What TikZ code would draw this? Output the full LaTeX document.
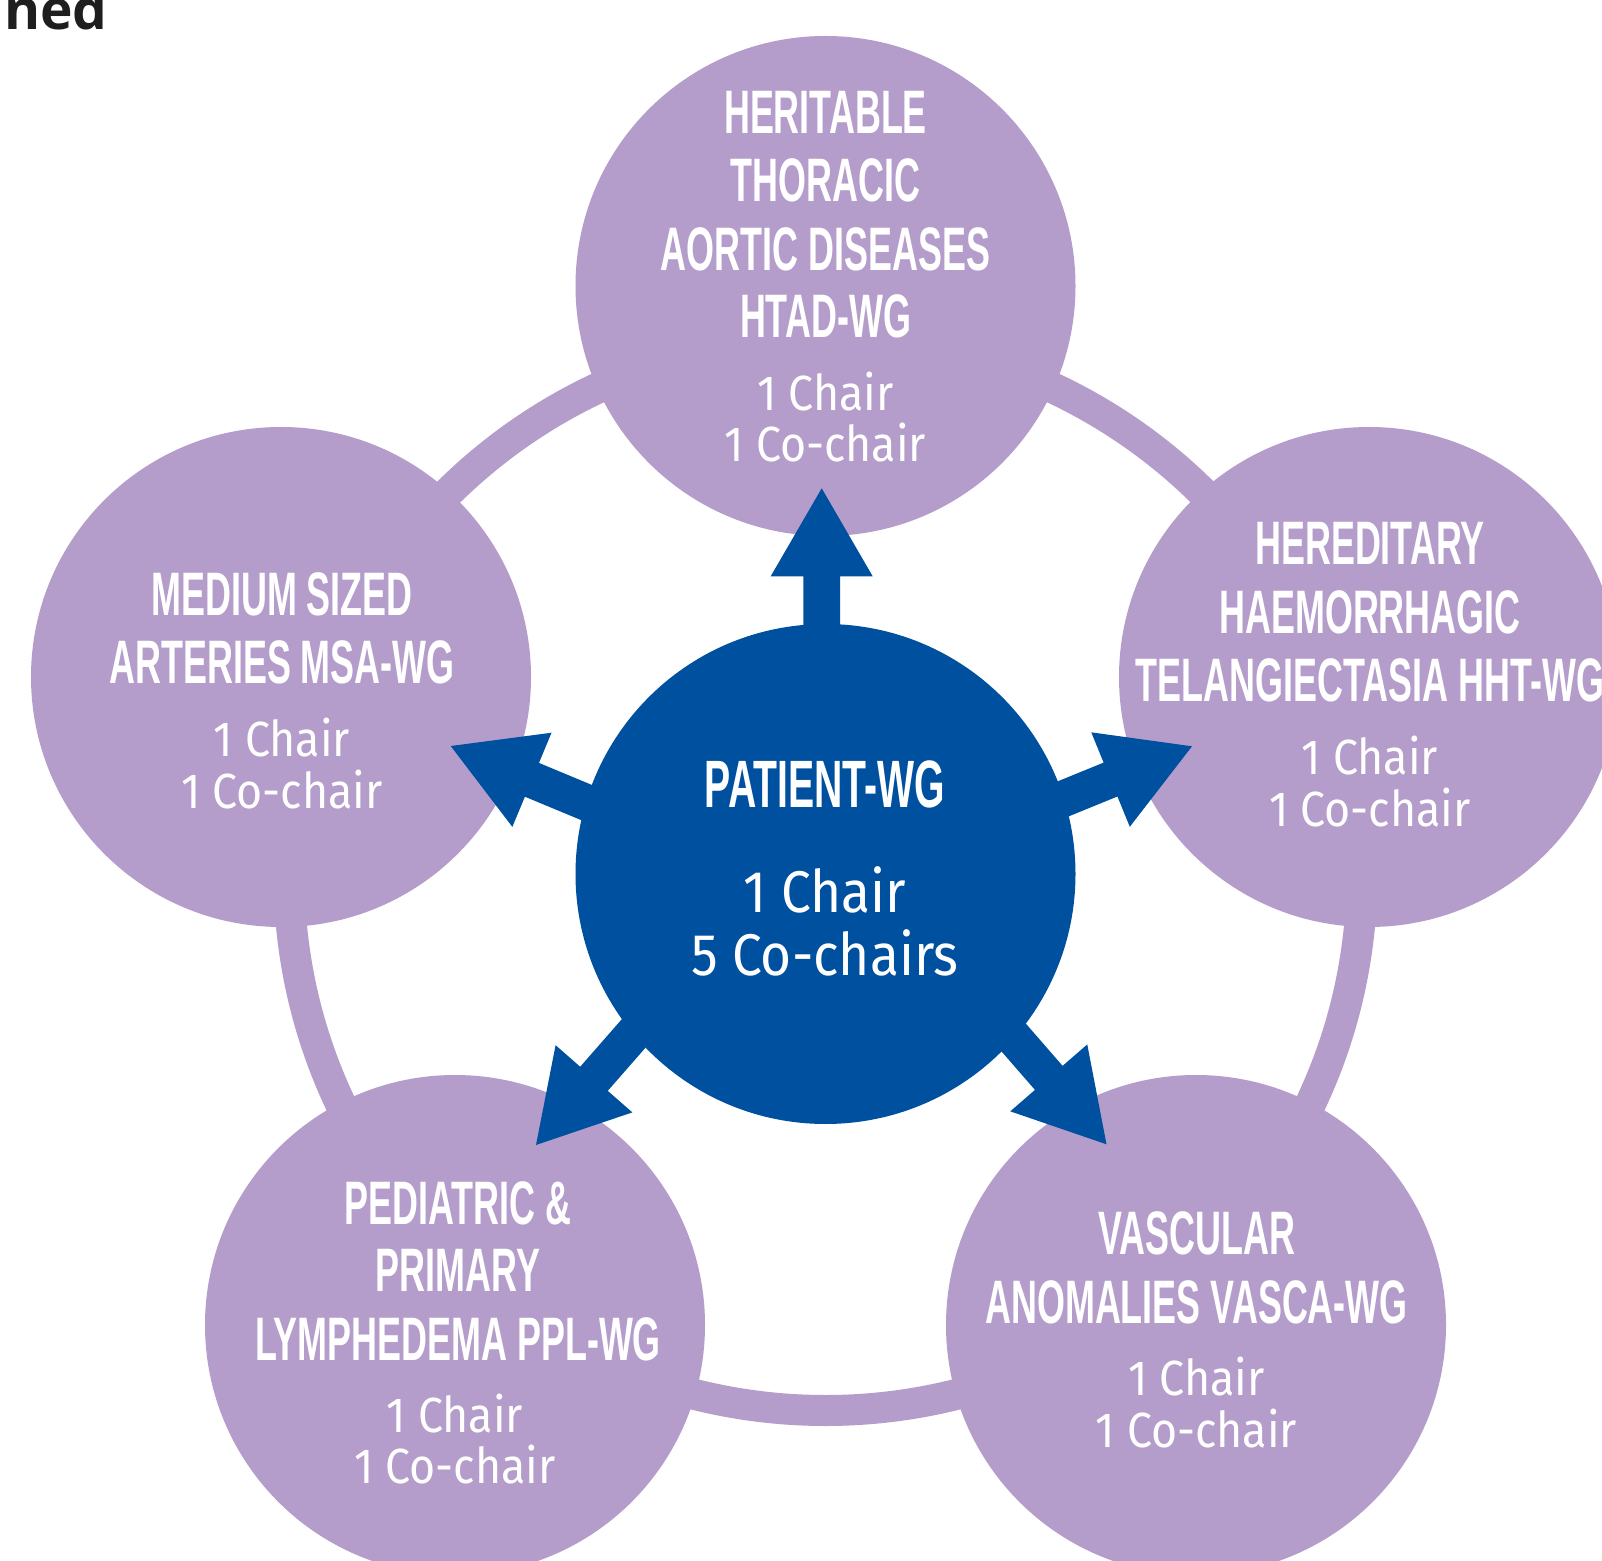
\documentclass[tikz,border=0pt]{standalone}
\usepackage{fontspec}
\setmainfont{Liberation Sans}
\newfontfamily\titlefont[FakeStretch=0.585]{Liberation Sans}
\newfontfamily\chairfont[FakeStretch=0.905]{Fira Sans}
\newfontfamily\nedfont{Open Sans}
\definecolor{lav}{HTML}{B49DCA}
\definecolor{navy}{HTML}{0050A0}
\definecolor{ink}{HTML}{1E1E1E}
\begin{document}
\begin{tikzpicture}[x=0.5pt,y=-0.5pt,
  wg/.style={circle,fill=lav,minimum size=250pt,inner sep=0pt},
  hub/.style={circle,fill=navy,minimum size=250pt,inner sep=0pt},
  ttl/.style={text=white,anchor=base,inner sep=0pt,font=\titlefont\bfseries\fontsize{30.7}{30.7}\selectfont},
  chr/.style={text=white,anchor=base,inner sep=0pt,font=\chairfont\fontsize{24.7}{24.7}\selectfont},
  hubttl/.style={text=white,anchor=base,inner sep=0pt,font=\titlefont\bfseries\fontsize{33.5}{33.5}\selectfont},
  hubchr/.style={text=white,anchor=base,inner sep=0pt,font=\chairfont\fontsize{29.4}{29.4}\selectfont},
  barrow/.pic={\fill[navy] (0,0) -- (-88,51) -- (-88,18.3) -- (-250,18.3) -- (-250,-18.3) -- (-88,-18.3) -- (-88,-51) -- cycle;}
]
\useasboundingbox (0,0) rectangle (1602,1561);
\fill[white] (0,0) rectangle (1602,1561);

\coordinate (c) at (825.5,874);
% ring
\draw[lav, line width=15.5pt] (c) circle[radius=536.5];

% outer circles
\node[wg] (top) at (825.5,286) {};
\node[wg] (left) at (281,677) {};
\node[wg] (right) at (1369,677) {};
\node[wg] (bl) at (455,1325) {};
\node[wg] (br) at (1196,1325) {};

% hub
\node[hub] (hub) at (c) {};

% arrows
\coordinate (tT) at (821.7,488.3);
\coordinate (tL) at (450.7,746);
\coordinate (tR) at (1192,746.3);
\coordinate (tBL) at (536,1145);
\coordinate (tBR) at (1106.5,1144.3);
\pic[rotate=90] at (tT) {barrow};
\pic[rotate=157.4] at (tL) {barrow};
\pic[rotate=22.2] at (tR) {barrow};
\pic[rotate=228.8] at (tBL) {barrow};
\pic[rotate=311] at (tBR) {barrow};

% partial heading
\node[anchor=base east,inner sep=0pt,text=ink,font=\nedfont\bfseries\fontsize{27.5}{27.5}\selectfont] (ned) at (108,30) {ned};

% top texts
\node[ttl] (t1) at (825.5,134) {HERITABLE};
\node[ttl] (t2) at (825.5,202) {THORACIC};
\node[ttl] (t3) at (825.5,271) {AORTIC DISEASES};
\node[ttl] (t4) at (825.5,338) {HTAD-WG};
\node[chr] (t5) at (825.5,411) {1 Chair};
\node[chr] (t6) at (825.5,462) {1 Co-chair};

% left texts
\node[ttl] (l1) at (282,616) {MEDIUM SIZED};
\node[ttl] (l2) at (282,683.5) {ARTERIES MSA-WG};
\node[chr] (l3) at (282,756) {1 Chair};
\node[chr] (l4) at (282,808) {1 Co-chair};

% right texts
\node[ttl] (r1) at (1370,565) {HEREDITARY};
\node[ttl] (r2) at (1370,633.5) {HAEMORRHAGIC};
\node[ttl] (r3) at (1370,702) {TELANGIECTASIA HHT-WG};
\node[chr] (r4) at (1370,774.5) {1 Chair};
\node[chr] (r5) at (1370,826.5) {1 Co-chair};

% bottom-left texts
\node[ttl] (b1) at (458,1224) {PEDIATRIC \&};
\node[ttl] (b2) at (458,1291.5) {PRIMARY};
\node[ttl] (b3) at (458,1360) {LYMPHEDEMA PPL-WG};
\node[chr] (b4) at (455,1432) {1 Chair};
\node[chr] (b5) at (455,1483.5) {1 Co-chair};

% bottom-right texts
\node[ttl] (v1) at (1196.5,1254.6) {VASCULAR};
\node[ttl] (v2) at (1196.5,1323) {ANOMALIES VASCA-WG};
\node[chr] (v3) at (1196.5,1395.6) {1 Chair};
\node[chr] (v4) at (1196.5,1447) {1 Co-chair};

% hub texts
\node[hubttl] (h1) at (825,807) {PATIENT-WG};
\node[hubchr] (h2) at (825,912) {1 Chair};
\node[hubchr] (h3) at (825,975) {5 Co-chairs};
\end{tikzpicture}
\end{document}
